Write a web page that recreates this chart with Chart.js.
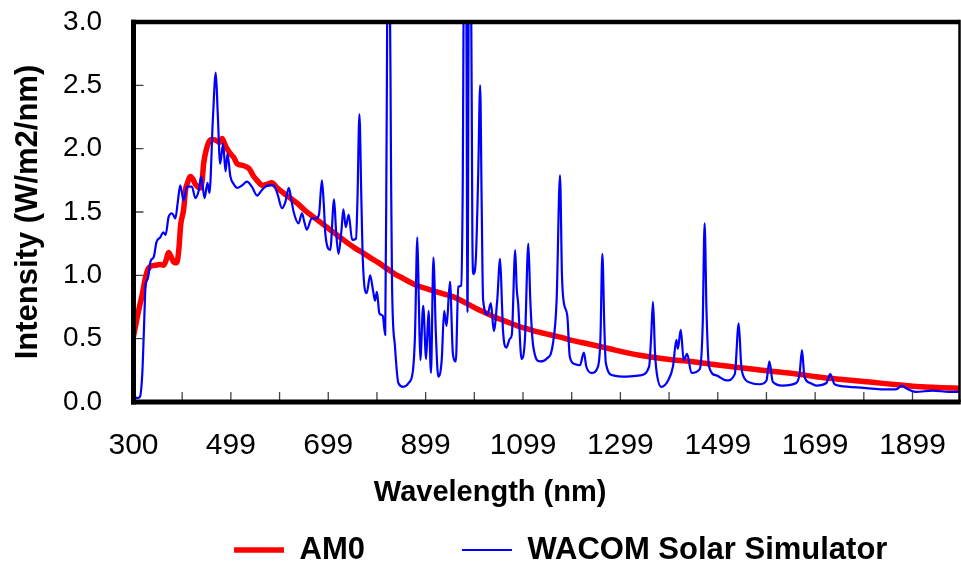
<!DOCTYPE html>
<html><head><meta charset="utf-8">
<script src="https://cdn.jsdelivr.net/npm/chart.js@4.4.1/dist/chart.umd.min.js"></script>
<style>html,body{margin:0;padding:0;background:#fff;} #wrap{width:961px;height:566px;position:relative;}</style>
</head><body><div id="wrap"><canvas id="c"></canvas></div>
<script>
// ---- data ----
const am0Wavelengths = [300,311,318,325,330,335,345,355,362,367,372,378,384,389,393,397,403,407,410,417,422,427,437,441,444,450,458,465,472,477,482,487,492,499,506,513,522,530,538,547,556,564,575,584,595,608,622,636,653,670,687,704,721,738,755,772,786,803,820,837,854,871,889,906,923,940,957,974,991,1008,1025,1042,1059,1076,1094,1111,1128,1145,1162,1179,1196,1220,1244,1278,1312,1346,1381,1415,1449,1483,1518,1552,1586,1620,1654,1702,1750,1800,1839,1880,1920,1960,1996];
const am0Values = [0.52,0.73,0.85,0.99,1.05,1.07,1.08,1.085,1.08,1.12,1.18,1.14,1.10,1.10,1.20,1.40,1.52,1.68,1.72,1.78,1.76,1.72,1.69,1.75,1.88,2.00,2.07,2.07,2.06,2.05,2.08,2.04,2.00,1.96,1.93,1.88,1.87,1.86,1.84,1.78,1.74,1.71,1.72,1.73,1.69,1.65,1.61,1.57,1.51,1.46,1.41,1.36,1.31,1.26,1.215,1.175,1.14,1.10,1.055,1.01,0.975,0.94,0.91,0.89,0.87,0.85,0.83,0.80,0.765,0.73,0.70,0.67,0.645,0.62,0.594,0.575,0.555,0.54,0.525,0.51,0.49,0.47,0.45,0.42,0.39,0.365,0.345,0.33,0.318,0.30,0.284,0.268,0.253,0.238,0.225,0.20,0.18,0.162,0.147,0.133,0.12,0.113,0.108];

const wacomWavelengths = [300,303,306,313,318,321,325,329,335,342,347,355,361,366,372,379,386,391,396,403,410,420,427,434,439,446,452,456,463,469,473,478,484,489,493,499,506,513,523,533,543,554,563,571,580,588,596,605,612,619,624,629,639,646,651,656,666,676,681,687,691,694,704,712,716,721,727,731,736,742,749,757,760,764,768,771,779,786,792,796,800,805,812,817,820,822,826,829,831,837,844,854,865,874,878,883,886,889,895,901,906,911,916,921,926,933,938,943,950,956,962,967,973,976,979,983,986,989,993,996,998,1003,1008,1012,1015,1018,1027,1034,1040,1047,1053,1057,1059,1066,1073,1077,1084,1087,1090,1097,1104,1111,1115,1121,1135,1148,1161,1169,1176,1180,1184,1191,1196,1206,1217,1225,1230,1241,1254,1259,1263,1267,1270,1285,1312,1340,1359,1363,1367,1371,1374,1384,1398,1408,1415,1418,1424,1430,1437,1446,1463,1469,1473,1477,1482,1497,1518,1535,1543,1548,1552,1569,1586,1600,1606,1613,1633,1661,1668,1673,1678,1690,1702,1723,1731,1740,1770,1805,1839,1866,1879,1886,1907,1941,1975,1996];
const wacomValues = [0.11,0.05,0.03,0.04,0.22,0.52,0.93,0.97,1.11,1.15,1.26,1.30,1.34,1.32,1.46,1.49,1.45,1.58,1.71,1.59,1.70,1.70,1.61,1.67,1.78,1.61,1.73,1.65,2.23,2.60,2.28,1.88,2.04,1.82,1.96,1.78,1.72,1.69,1.71,1.74,1.70,1.63,1.67,1.70,1.71,1.71,1.64,1.53,1.58,1.69,1.60,1.50,1.41,1.49,1.42,1.36,1.45,1.45,1.48,1.75,1.55,1.33,1.20,1.60,1.35,1.17,1.35,1.52,1.38,1.48,1.28,1.29,1.60,2.27,1.60,1.12,0.86,1.00,0.88,0.80,0.87,0.70,0.68,0.53,2.20,3.50,3.50,1.80,0.93,0.44,0.15,0.12,0.15,0.25,0.51,1.30,0.80,0.33,0.76,0.34,0.72,0.23,1.14,0.54,0.20,0.33,0.72,0.60,0.95,0.38,0.32,0.91,0.92,1.60,3.50,3.50,0.71,3.50,3.50,1.30,1.01,1.12,1.80,2.50,1.60,0.81,0.69,0.78,0.56,0.80,1.13,0.75,0.56,0.43,0.50,0.53,1.20,0.90,0.78,0.34,0.50,1.25,0.80,0.44,0.32,0.34,0.45,0.80,1.79,1.00,0.78,0.68,0.36,0.30,0.29,0.39,0.28,0.23,0.28,0.50,1.17,0.60,0.31,0.21,0.20,0.21,0.28,0.50,0.79,0.40,0.25,0.12,0.17,0.28,0.49,0.42,0.57,0.33,0.38,0.23,0.26,0.60,1.41,0.70,0.28,0.21,0.17,0.22,0.62,0.30,0.21,0.15,0.14,0.17,0.32,0.16,0.13,0.15,0.22,0.41,0.20,0.15,0.13,0.15,0.22,0.14,0.12,0.11,0.10,0.10,0.13,0.11,0.08,0.09,0.08,0.08];

const xTickValues = [300,400,500,600,700,800,900,1000,1100,1200,1300,1400,1500,1600,1700,1800,1900];
const xTickLabels = ['300','','499','','699','','899','','1099','','1299','','1499','','1699','','1899'];
const seriesNames = ['AM0','WACOM Solar Simulator'];
const xTitle = 'Wavelength (nm)';
const yTitle = 'Intensity (W/m2/nm)';

const FONT = "'Liberation Sans', Arial, Helvetica, sans-serif";

const framePlugin = {
  id: 'frame',
  afterDatasetsDraw(chart) {
    const {ctx, chartArea: a, scales: {x, y}} = chart;
    ctx.save();
    ctx.strokeStyle = '#444';
    ctx.lineWidth = 1.3;
    ctx.beginPath();
    x.ticks.forEach(t => {
      const px = x.getPixelForValue(t.value);
      if (px > a.left + 3 && px < a.right - 3) { ctx.moveTo(px, a.bottom); ctx.lineTo(px, a.bottom - 10); }
    });
    y.ticks.forEach(t => {
      const py = y.getPixelForValue(t.value);
      if (py > a.top + 3 && py < a.bottom - 3) { ctx.moveTo(a.left, py); ctx.lineTo(a.left + 10, py); }
    });
    ctx.stroke();
    ctx.strokeStyle = '#000';
    ctx.lineCap = 'butt';
    ctx.lineWidth = 4.5;
    ctx.beginPath(); ctx.moveTo(a.left - 2.5, a.top); ctx.lineTo(a.right, a.top); ctx.stroke();
    ctx.lineWidth = 5;
    ctx.beginPath(); ctx.moveTo(a.left, a.top - 2.25); ctx.lineTo(a.left, a.bottom + 2.5); ctx.stroke();
    ctx.beginPath(); ctx.moveTo(a.left - 2.5, a.bottom); ctx.lineTo(a.right + 1.25, a.bottom); ctx.stroke();
    ctx.lineWidth = 2.5;
    ctx.beginPath(); ctx.moveTo(a.right, a.top - 2.25); ctx.lineTo(a.right, a.bottom); ctx.stroke();
    // x-axis title, centred on the page as in the source figure
    ctx.fillStyle = '#000';
    ctx.font = 'bold 29px ' + FONT;
    ctx.textAlign = 'center';
    ctx.textBaseline = 'middle';
    ctx.fillText(xTitle, chart.width * 0.51, a.bottom + 91);
    ctx.restore();
  }
};

const legendPlace = {
  id: 'legendPlace',
  afterLayout(chart) {
    const lg = chart.legend;
    if (!lg) return;
    const pad = lg.options.labels.padding;
    const half = lg.options.labels.font.size / 2;
    lg.left = 234 - pad;
    lg.right = 3000;
    lg.top = 550 - pad - half;
    lg.bottom = 566;
  }
};

new Chart(document.getElementById('c'), {
  type: 'line',
  data: {
    datasets: [
      {
        label: seriesNames[0],
        data: am0Wavelengths.map((w, i) => ({x: w, y: am0Values[i]})),
        borderColor: '#FF0000',
        backgroundColor: '#FF0000',
        borderWidth: 5.5,
        borderCapStyle: 'round',
        borderJoinStyle: 'round',
        pointRadius: 0,
        cubicInterpolationMode: 'monotone',
        fill: false,
        order: 1
      },
      {
        label: seriesNames[1],
        data: wacomWavelengths.map((w, i) => ({x: w, y: wacomValues[i]})),
        borderColor: '#0000FF',
        backgroundColor: '#0000FF',
        borderWidth: 2.2,
        borderJoinStyle: 'round',
        pointRadius: 0,
        cubicInterpolationMode: 'monotone',
        fill: false,
        order: 0
      }
    ]
  },
  options: {
    responsive: true,
    maintainAspectRatio: false,
    animation: false,
    events: [],
    layout: { padding: { left: 0, right: 1.5, top: 22, bottom: 0 } },
    scales: {
      x: {
        type: 'linear',
        min: 300,
        max: 1996.5,
        grid: { display: false, drawTicks: false },
        border: { display: false },
        afterBuildTicks: (s) => { s.ticks = xTickValues.map(v => ({value: v})); },
        afterFit: (s) => { s.height = 107.8; s.paddingLeft = 0; s.paddingRight = 0; s.paddingTop = 0; s.paddingBottom = 0; },
        ticks: {
          autoSkip: false,
          maxRotation: 0,
          padding: 26,
          color: '#000',
          font: { family: FONT, size: 30 },
          callback: (v, i) => xTickLabels[i]
        },
        title: { display: false }
      },
      y: {
        min: 0,
        max: 3,
        grid: { display: false, drawTicks: false },
        border: { display: false },
        afterFit: (s) => { s.width = 133.5; s.paddingLeft = 0; s.paddingRight = 0; s.paddingTop = 0; s.paddingBottom = 0; },
        ticks: {
          stepSize: 0.5,
          padding: 31.5,
          color: '#000',
          font: { family: FONT, size: 28 },
          callback: (v) => Number(v).toFixed(1)
        },
        title: {
          display: true,
          text: yTitle,
          color: '#000',
          padding: { top: 10, bottom: 0 },
          font: { family: FONT, size: 31, weight: 'bold' }
        }
      }
    },
    plugins: {
      tooltip: { enabled: false },
      legend: {
        display: true,
        position: 'bottom',
        align: 'start',
        maxHeight: 56.2,
        labels: {
          usePointStyle: true,
          pointStyle: 'line',
          pointStyleWidth: 50,
          padding: 97,
          color: '#000',
          font: { family: FONT, size: 31, weight: 'bold' },
          sort: (a, b) => a.datasetIndex - b.datasetIndex
        }
      }
    }
  },
  plugins: [framePlugin, legendPlace]
});
</script>
</body></html>
